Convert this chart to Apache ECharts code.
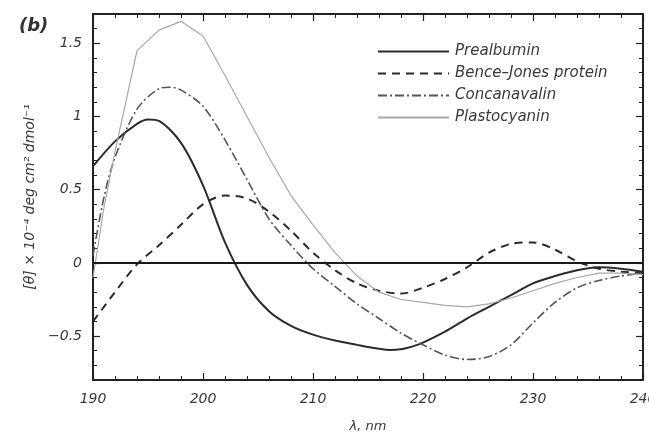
<!DOCTYPE html>
<html>
<head>
<meta charset="utf-8">
<script src="https://cdn.jsdelivr.net/npm/echarts@6/dist/echarts.min.js"></script>
<style>
	html, body { margin: 0; padding: 0; background: #fff; }
	#chart { width: 649px; height: 442px; }
</style>
</head>
<body>
<div id="chart"></div>
<script>
// Longitudes de onda (nm) y elipticidad [θ] × 10^-4 por proteína
const prealbuminX = [190, 192, 194, 195, 196, 198, 200, 202, 204, 206, 208, 210, 212, 214, 215, 216, 217, 218, 219, 220, 222, 224, 226, 228, 230, 232, 234, 236, 238, 240]
const prealbuminY = [0.66, 0.83, 0.95, 0.98, 0.97, 0.82, 0.53, 0.14, -0.15, -0.33, -0.43, -0.49, -0.53, -0.56, -0.575, -0.587, -0.595, -0.59, -0.572, -0.545, -0.47, -0.38, -0.30, -0.22, -0.14, -0.09, -0.05, -0.03, -0.04, -0.06]

const benceX = [190, 192, 194, 196, 198, 200, 202, 204, 206, 208, 210, 212, 214, 216, 218, 220, 222, 224, 226, 228, 230, 232, 234, 236, 238, 240]
const benceY = [-0.40, -0.20, -0.01, 0.12, 0.26, 0.40, 0.46, 0.44, 0.35, 0.22, 0.07, -0.05, -0.14, -0.19, -0.21, -0.17, -0.11, -0.03, 0.07, 0.13, 0.14, 0.09, 0.01, -0.04, -0.06, -0.07]

const concanavalinX = [190, 191, 192, 194, 196, 197, 198, 200, 202, 204, 206, 208, 210, 212, 214, 216, 218, 220, 222, 224, 226, 228, 230, 232, 234, 236, 238, 240]
const concanavalinY = [0.05, 0.45, 0.72, 1.05, 1.19, 1.20, 1.18, 1.07, 0.84, 0.57, 0.30, 0.12, -0.04, -0.16, -0.28, -0.38, -0.48, -0.56, -0.63, -0.66, -0.64, -0.56, -0.41, -0.27, -0.17, -0.12, -0.09, -0.07]

const plastocyaninX = [190, 191, 192, 194, 196, 198, 200, 202, 204, 206, 208, 210, 212, 214, 216, 218, 220, 222, 224, 226, 228, 230, 232, 234, 236, 238, 240]
const plastocyaninY = [-0.10, 0.38, 0.76, 1.45, 1.59, 1.65, 1.55, 1.28, 1.00, 0.72, 0.46, 0.26, 0.07, -0.09, -0.20, -0.25, -0.27, -0.29, -0.30, -0.28, -0.24, -0.19, -0.14, -0.10, -0.07, -0.07, -0.08]

const nombresSeries = ['Prealbumin', 'Bence–Jones protein', 'Concanavalin', 'Plastocyanin']
const yTicks = [-0.5, 0, 0.5, 1, 1.5]
const xTicks = [190, 200, 210, 220, 230, 240]

const Y_MIN = -0.8
const Y_MAX = 1.7

// Marcas menores cada 0.1 en el eje Y
const yMinorTicks = []
for (let i = -7; i <= 16; i++) {
	if (i % 5 !== 0) yMinorTicks.push(i / 10)
}

function pares(xs, ys) {
	return xs.map((x, i) => [x, ys[i]])
}

function formatoY(v) {
	return v < 0 ? '\u2212' + Math.abs(v) : String(v)
}

const fuente = '"DejaVu Sans", sans-serif'
const colorEje = '#222'
const colorTexto = '#3a3a3a'

const chart = echarts.init(document.getElementById('chart'), null, { renderer: 'canvas' })

function ejeX(posicion, conEtiquetas) {
	return {
		type: 'value',
		position: posicion,
		min: 190,
		max: 240,
		interval: 10,
		name: conEtiquetas ? 'λ, nm' : '',
		nameLocation: 'middle',
		nameGap: 40,
		nameTextStyle: { fontFamily: fuente, fontStyle: 'italic', fontSize: 13, color: colorTexto },
		axisLine: { show: true, onZero: false, lineStyle: { color: colorEje, width: 2 } },
		axisTick: { show: true, inside: true, length: 7, lineStyle: { color: colorEje, width: 1.2 } },
		minorTick: { show: true, splitNumber: 5, length: 4, lineStyle: { color: colorEje, width: 1 } },
		axisLabel: {
			show: conEtiquetas,
			margin: 12,
			fontFamily: fuente,
			fontStyle: 'italic',
			fontSize: 14,
			color: colorTexto,
			showMaxLabel: true,
			showMinLabel: true,
			hideOverlap: false,
			customValues: xTicks,
		},
		splitLine: { show: false },
		minorSplitLine: { show: false },
	}
}

function ejeY(posicion, mayores, conEtiquetas, conLinea, nombre) {
	return {
		type: 'value',
		position: posicion,
		min: Y_MIN,
		max: Y_MAX,
		name: nombre || '',
		nameLocation: 'middle',
		nameGap: 56,
		nameRotate: 90,
		nameTextStyle: { fontFamily: fuente, fontStyle: 'italic', fontSize: 14, color: colorTexto },
		axisLine: { show: conLinea, onZero: false, lineStyle: { color: colorEje, width: 2 } },
		axisTick: {
			show: true,
			inside: true,
			length: mayores ? 7 : 4,
			customValues: mayores ? yTicks : yMinorTicks,
			lineStyle: { color: colorEje, width: mayores ? 1.2 : 1 },
		},
		axisLabel: {
			show: conEtiquetas,
			margin: 11,
			fontFamily: fuente,
			fontStyle: 'italic',
			fontSize: 14,
			color: colorTexto,
			customValues: yTicks,
			formatter: formatoY,
		},
		splitLine: { show: false },
	}
}

const estilos = [
	{ color: '#2b2b2b', width: 2, type: 'solid' },
	{ color: '#2b2b2b', width: 2, type: [8, 6] },
	{ color: '#555', width: 1.6, type: [9, 3, 2, 3] },
	{ color: '#a8a8a8', width: 1.2, type: 'solid' },
]
const datos = [
	pares(prealbuminX, prealbuminY),
	pares(benceX, benceY),
	pares(concanavalinX, concanavalinY),
	pares(plastocyaninX, plastocyaninY),
]

const series = nombresSeries.map((nombre, i) => ({
	name: nombre,
	type: 'line',
	data: datos[i],
	symbol: 'none',
	smooth: i === 3 ? false : 0.3,
	lineStyle: estilos[i],
	itemStyle: { color: estilos[i].color },
	clip: true,
	z: 3 + i,
}))

// Línea horizontal en cero
series.push({
	name: 'cero',
	type: 'line',
	data: [[190, 0], [240, 0]],
	symbol: 'none',
	lineStyle: { color: '#1a1a1a', width: 2 },
	silent: true,
	z: 10,
})

chart.setOption({
	animation: false,
	backgroundColor: '#fff',
	grid: { left: 93, right: 6, top: 14, bottom: 62, containLabel: false, outerBoundsMode: 'none' },
	xAxis: [ejeX('bottom', true), ejeX('top', false)],
	yAxis: [
		ejeY('left', true, true, true, '[θ] × 10⁻⁴ deg cm² dmol⁻¹'),
		ejeY('left', false, false, false),
		ejeY('right', true, false, true),
		ejeY('right', false, false, false),
	],
	legend: {
		data: nombresSeries,
		orient: 'vertical',
		left: 372,
		top: 39,
		itemWidth: 71,
		itemHeight: 14,
		itemGap: 7,
		itemStyle: { opacity: 0 },
		textStyle: {
			fontFamily: fuente,
			fontStyle: 'italic',
			fontSize: 15,
			color: colorTexto,
			padding: [0, 0, 0, 1],
		},
	},
	graphic: [
		{
			type: 'text',
			left: 19,
			top: 17,
			style: { text: '(b)', font: 'italic bold 18px "DejaVu Sans", sans-serif', fill: '#333' },
		},
	],
	series: series,
})
</script>
</body>
</html>
